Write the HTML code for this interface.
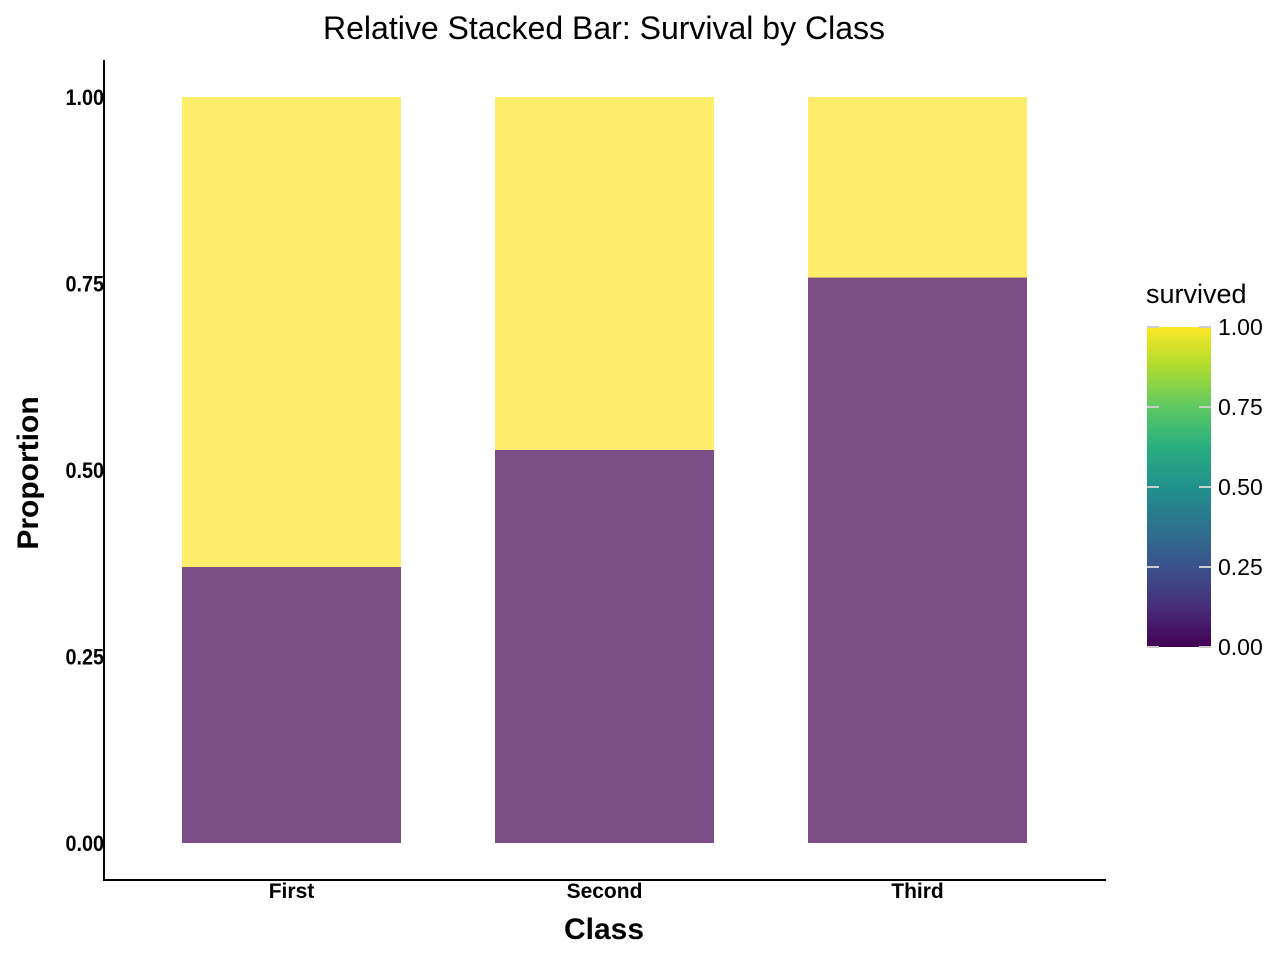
<!DOCTYPE html>
<html><head><meta charset="utf-8"><style>body{margin:0;background:#fff}svg{display:block;font-family:"Liberation Sans",Arial,sans-serif}</style></head>
<body>
<svg id="chart" width="1280" height="960">
<defs><linearGradient id="vir" x1="0" y1="1" x2="0" y2="0">
<stop offset="0" stop-color="#440154"/><stop offset="0.125" stop-color="#472d7b"/><stop offset="0.25" stop-color="#3b528b"/><stop offset="0.375" stop-color="#2c728e"/><stop offset="0.5" stop-color="#21918c"/><stop offset="0.625" stop-color="#28ae80"/><stop offset="0.75" stop-color="#5ec962"/><stop offset="0.875" stop-color="#addc30"/><stop offset="1" stop-color="#fde725"/></linearGradient></defs>
<text x="604" y="39" font-size="32" text-anchor="middle">Relative Stacked Bar: Survival by Class</text>
<g id="bars"></g>
<line x1="104" y1="60" x2="104" y2="881" stroke="#000" stroke-width="2"/>
<line x1="103" y1="880" x2="1106" y2="880" stroke="#000" stroke-width="2"/>
<g id="yticks"></g><g id="xticks"></g>
<text x="604" y="939" font-size="30" font-weight="bold" text-anchor="middle">Class</text>
<text transform="translate(38,473) rotate(-90)" font-size="30" font-weight="bold" text-anchor="middle">Proportion</text>
<g>
<text x="1146" y="303" font-size="27">survived</text>
<rect x="1147" y="327" width="64" height="320" fill="url(#vir)"/>
<g id="cbticks"></g></g>
</svg>
<script>
const categories=["First","Second","Third"];
const died=[0.370,0.527,0.758];
const survived=[0.630,0.473,0.242];
const yTicks=[0,0.25,0.5,0.75,1];
const yTickLabels=["0.00","0.25","0.50","0.75","1.00"];
const cbTicks=[0,0.25,0.5,0.75,1];
const NS="http://www.w3.org/2000/svg";
const y=v=>843-v*746;
const xc=i=>291.5+i*313;
const cy=v=>647-v*320;
function mk(tag,attrs,parent){const e=document.createElementNS(NS,tag);for(const k in attrs)e.setAttribute(k,attrs[k]);parent.appendChild(e);return e;}
const bars=document.getElementById('bars');
categories.forEach((c,i)=>{
  let r=mk('rect',{x:xc(i)-109.5,y:y(died[i]),width:219,height:y(0)-y(died[i]),fill:'#7b4f85'},bars);
  
  
  let r2=mk('rect',{x:xc(i)-109.5,y:y(died[i]+survived[i]),width:219,height:y(died[i])-y(died[i]+survived[i]),fill:'#fded6a'},bars);
  
  
  let t=mk('text',{x:xc(i),y:898,'font-size':21,'font-weight':'bold','text-anchor':'middle'},document.getElementById('xticks'));
  t.textContent=c;
  
  
});
yTicks.forEach((v,i)=>{
  let t=mk('text',{transform:'translate(104,'+(y(v)+8)+') scale(0.9,1)','font-size':22,'font-weight':'bold','text-anchor':'end'},document.getElementById('yticks'));
  t.textContent=yTickLabels[i];
  
  
});
const cbg=document.getElementById('cbticks');
cbTicks.forEach((v,i)=>{
  mk('line',{x1:1147,x2:1159,y1:cy(v),y2:cy(v),stroke:'#ccc','stroke-width':2},cbg);
  mk('line',{x1:1199,x2:1211,y1:cy(v),y2:cy(v),stroke:'#ccc','stroke-width':2},cbg);
  let t=mk('text',{x:1218,y:cy(v)+8,'font-size':23},cbg);
  t.textContent=v.toFixed(2);
  
  
});
</script>
</body></html>
